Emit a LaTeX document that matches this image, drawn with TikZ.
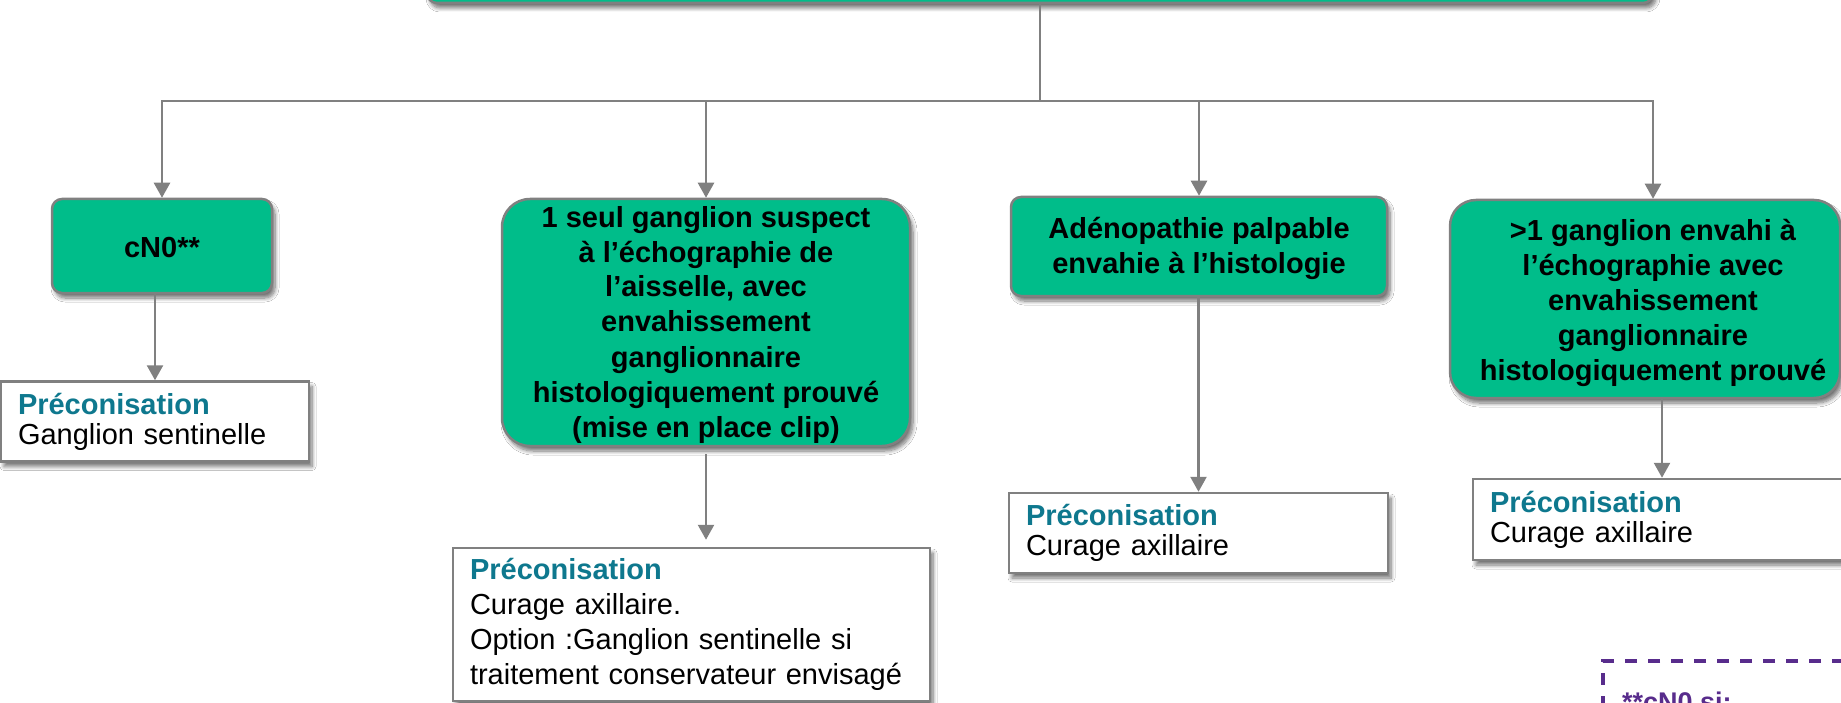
\documentclass[tikz,border=0pt]{standalone}
\usepackage{fontspec}
\setmainfont{Liberation Sans}
\usetikzlibrary{arrows.meta,calc,shadows.blur}

\definecolor{boxgreen}{RGB}{0,189,138}
\definecolor{edgegrey}{RGB}{128,128,128}
\definecolor{linkgrey}{RGB}{128,128,128}
\definecolor{tealhead}{RGB}{14,120,142}
\definecolor{notepurple}{RGB}{88,44,140}

\tikzset{
  softshadow/.style={blur shadow={shadow xshift=3pt, shadow yshift=-5pt,
      shadow blur radius=4pt, shadow blur steps=8, shadow opacity=55}},
  greenbox/.style={draw=edgegrey, line width=2.5pt, fill=boxgreen,
      rounded corners=#1, align=center, inner sep=0pt,
      font=\fontsize{29}{35}\selectfont\bfseries, softshadow},
  greenbox/.default=10pt,
  greentext/.style={align=center, inner sep=0pt,
      font=\fontsize{29}{35}\selectfont\bfseries},
  precobox/.style={draw=edgegrey, line width=2.5pt, fill=white,
      inner xsep=17pt, inner ysep=0pt, align=left,
      font=\fontsize{29}{30}\selectfont, softshadow},
  link/.style={draw=linkgrey, line width=2.5pt,
      -{Triangle[width=16pt,length=15pt]}},
  plainlink/.style={draw=linkgrey, line width=2.5pt},
  notebox/.style={draw=notepurple, line width=4pt,
      dash pattern=on 12pt off 11pt, fill=white},
}
\newcommand{\preco}{{\color{tealhead}\bfseries Préconisation}}

\begin{document}
\begin{tikzpicture}[x=1pt, y=-1pt]
  \useasboundingbox (0,0) rectangle (1841,703);
  \clip (0,0) rectangle (1841,703);
  \fill[white] (0,0) rectangle (1841,703);

  % top-level box (only its lower edge lies inside the page)
  \node[greenbox, minimum width=1226pt, minimum height=80pt] (top) at (1040,-37) {};

  % second level: clinical situations
  \node[greenbox, minimum width=220pt, minimum height=94pt] (cn0) at (162,246) {};
  \node[greentext] (cn0text) at ($(cn0.center)+(0,2)$) {cN0**};
  \node[greenbox=28pt, minimum width=408pt, minimum height=247pt] (b2) at (706,322.5) {};
  \node[greentext] (b2text) at ($(b2.center)+(0,2)$)
    {1 seul ganglion suspect\\à l’échographie de\\l’aisselle, avec\\envahissement\\ganglionnaire\\histologiquement prouvé\\(mise en place clip)};
  \node[greenbox, minimum width=376pt, minimum height=99pt] (b3) at (1199,246.5) {};
  \node[greentext] (b3text) at ($(b3.center)+(0,2)$)
    {Adénopathie palpable\\envahie à l’histologie};
  \node[greenbox=26pt, minimum width=390pt, minimum height=198pt] (b4) at (1645,299) {};
  \node[greentext] (b4text) at ($(b4.center)+(8,4)$)
    {>1 ganglion envahi à\\l’échographie avec\\envahissement\\ganglionnaire\\histologiquement prouvé};

  % recommendations
  \node[precobox, text width=274pt, minimum height=80pt] (p1) at (155,421.5)
    {\preco\\Ganglion sentinelle};
  \node[precobox, font=\fontsize{29}{35}\selectfont, text width=443pt, minimum height=153pt] (p2) at (691.5,624.5)
    {\preco\\Curage axillaire.\\Option :Ganglion sentinelle si\\traitement conservateur envisagé};
  \node[precobox, text width=345pt, minimum height=80pt] (p3) at (1198.5,533)
    {\preco\\Curage axillaire};
  \node[precobox, text width=344pt, minimum height=81pt] (p4) at (1662,519.5)
    {\preco\\Curage axillaire};

  % footnote frame
  \node[notebox, anchor=north west, minimum width=400pt, minimum height=200pt] (note) at (1601,659) {};
  \node[anchor=base west, inner sep=0pt, text=notepurple,
        font=\fontsize{27}{32}\selectfont\bfseries] (notetext) at (1622,711) {**cN0 si:};

  % connectors from the top box
  \coordinate (hub) at (1040,101);
  \coordinate (feed4) at ($(b4.north)+(8,0)$);
  \draw[plainlink] (top.south) -- (hub);
  \draw[link] (hub) -| (cn0.north);
  \draw[link] (hub) -| (b2.north);
  \draw[link] (hub) -| (b3.north);
  \draw[link] (hub) -| (feed4);

  % connectors to the recommendations
  \draw[link] (cn0.south -| p1.north) -- (p1.north);
  \draw[link, shorten <=7pt, shorten >=7pt] (b2.south) -- (b2.south |- p2.north);
  \draw[link] (b3.south -| p3.north) -- (p3.north);
  \draw[link] (b4.south -| p4.north) -- (p4.north);
\end{tikzpicture}
\end{document}
